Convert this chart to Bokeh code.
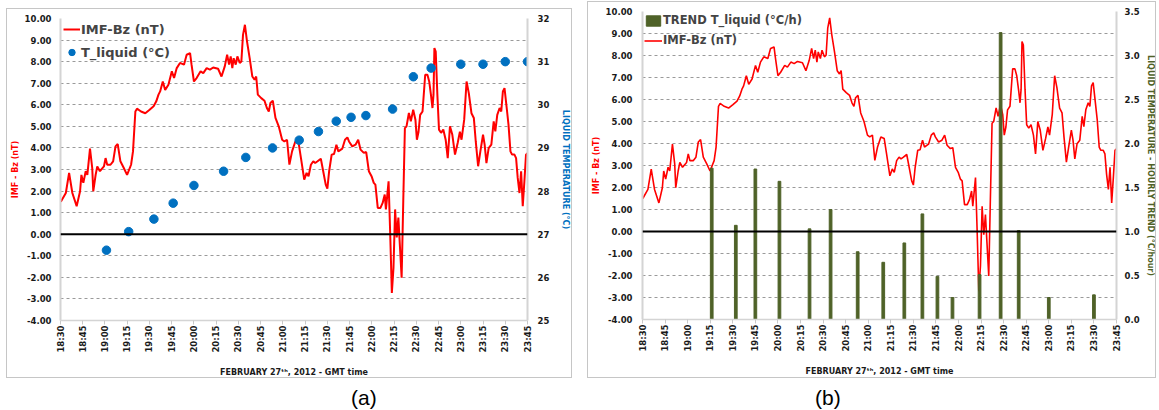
from bokeh.plotting import figure
from bokeh.models import (Range1d, LinearAxis, FixedTicker, NumeralTickFormatter,
                          Span, Legend, LegendItem, Div, Spacer)
from bokeh.layouts import row, column
from bokeh.embed import file_html
from bokeh.resources import INLINE

# ---------------- data ----------------
tick_labels = ["18:30", "18:45", "19:00", "19:15", "19:30", "19:45", "20:00", "20:15",
               "20:30", "20:45", "21:00", "21:15", "21:30", "21:45", "22:00", "22:15",
               "22:30", "22:45", "23:00", "23:15", "23:30", "23:45"]

# IMF-Bz (nT): minutes after 18:30 and values
imf_offset_min = [0.2, 3.6, 5.8, 8.0, 10.9, 13.2, 14.1, 15.4, 17.0, 18.1, 19.9, 21.4, 22.1,
                  23.7, 24.8, 26.6, 29.3, 30.4, 31.5, 33.7, 35.5, 37.1, 38.6, 40.4, 42.7,
                  44.9, 47.6, 48.9, 50.5, 51.6, 54.3, 57.2, 60.1, 62.8, 64.6, 66.1, 67.2,
                  69.0, 70.6, 72.8, 75.1, 76.6, 78.4, 80.6, 83.3, 85.1, 87.4, 88.4, 90.0,
                  91.8, 94.5, 96.3, 98.6, 100.8, 103.0, 106.3, 108.6, 110.8, 112.4, 113.7,
                  114.8, 115.9, 116.8, 118.2, 119.3, 120.9, 122.0, 123.1, 124.4, 125.8,
                  127.6, 129.4, 130.9, 132.0, 133.1, 135.4, 137.6, 139.2, 140.5, 141.6,
                  143.2, 145.0, 147.2, 149.5, 151.0, 152.8, 154.4, 156.2, 158.4, 160.6,
                  162.2, 164.4, 166.0, 167.3, 168.9, 170.5, 171.8, 173.4, 175.6, 177.2,
                  178.9, 180.0, 181.2, 182.9, 184.5, 186.1, 187.4, 190.1, 191.9, 193.5,
                  194.6, 196.8, 199.0, 200.8, 202.4, 204.6, 206.2, 208.0, 209.8, 211.3,
                  212.4, 214.0, 215.8, 217.3, 218.7, 219.5, 221.3, 222.4, 223.5, 224.6,
                  225.7, 226.8, 227.9, 229.0, 230.1, 231.2, 232.3, 233.4, 235.0, 236.3,
                  237.9, 239.4, 240.4, 241.5, 242.6, 244.2, 246.0, 247.5, 248.7, 250.0,
                  250.9, 251.6, 252.2, 253.1, 254.2, 255.3, 256.7, 258.2, 259.8, 261.2,
                  262.7, 264.3, 266.1, 267.9, 269.4, 270.5, 272.3, 273.9, 275.4, 277.2,
                  278.8, 280.1, 281.7, 283.2, 285.0, 286.1, 287.3, 288.8, 290.6, 292.2,
                  293.3, 294.6, 296.2, 297.3, 298.4, 299.5, 301.1, 302.2, 303.5, 304.6,
                  306.2, 307.3, 308.4, 309.6, 310.7, 311.8, 312.9, 314.0, 315.0]
imf_bz = [1.50, 1.91, 2.84, 1.91, 1.30, 1.99, 2.75, 2.38, 2.92, 2.75, 3.97, 3.07, 1.99,
          2.75, 3.14, 2.92, 3.14, 3.53, 3.22, 3.22, 3.38, 4.07, 4.18, 3.38, 3.07,
          2.75, 3.22, 3.84, 5.69, 5.82, 5.69, 5.61, 5.77, 5.93, 6.16, 6.47, 6.62,
          7.08, 6.69, 6.93, 7.55, 7.24, 7.70, 7.94, 7.86, 8.32, 8.39, 7.86, 7.08,
          7.24, 7.55, 7.47, 7.70, 7.63, 7.73, 7.67, 7.31, 7.78, 8.32, 7.86,
          8.24, 7.70, 8.16, 7.86, 8.24, 7.94, 8.01, 9.24, 9.71, 8.94,
          8.16, 7.31, 7.16, 7.31, 6.47, 6.31, 6.19, 5.85, 5.69, 6.08,
          6.19, 5.39, 5.00, 4.38, 4.30, 4.38, 3.23, 3.84, 4.30, 4.23,
          3.53, 2.53, 2.84, 2.69, 3.22, 3.38, 3.30, 3.38, 3.50, 2.92,
          2.30, 2.11, 2.92, 3.69, 3.72, 4.15, 3.84, 3.97, 4.38, 4.49,
          4.30, 4.07, 4.15, 4.38, 3.92, 3.77, 3.81, 2.92, 2.69, 2.38,
          2.30, 1.22, 1.22, 1.45, 1.84, 1.15, 2.45, 0.00, -2.72, -1.56,
          1.15, -0.15, 0.77, -0.62, -2.02, 1.53, 4.92, 5.00, 5.62, 5.23,
          5.77, 5.31, 4.38, 4.75, 5.53, 5.69, 7.39, 7.39, 7.08, 6.39,
          5.85, 6.47, 8.63, 8.47, 6.47, 4.85, 4.70, 4.85, 4.38, 3.53,
          5.00, 4.61, 3.69, 4.23, 4.75, 4.38, 5.31, 7.08, 6.54, 5.61,
          5.39, 4.30, 3.15, 3.84, 4.61, 4.15, 3.30, 3.99, 4.15, 5.23,
          4.77, 5.53, 5.85, 5.69, 6.62, 6.77, 5.77, 5.07, 3.84, 3.69,
          3.69, 3.53, 2.61, 1.91, 2.92, 1.30, 2.45, 3.69, 3.76]

# T_liquid (°C)
t_times = ["19:01", "19:16", "19:33", "19:46", "20:00", "20:20", "20:35", "20:53", "21:11",
           "21:24", "21:36", "21:46", "21:56", "22:14", "22:28", "22:40", "23:00", "23:15",
           "23:30", "23:45"]
t_liquid = [26.63, 27.06, 27.35, 27.72, 28.13, 28.46, 28.78, 29.00, 29.18, 29.38, 29.62,
            29.71, 29.75, 29.90, 30.65, 30.85, 30.94, 30.94, 31.00, 31.00]

# TREND T_liquid (°C/h)
trend_times = ["19:16", "19:32", "19:45", "20:01", "20:21", "20:35", "20:53", "21:10",
               "21:24", "21:36", "21:46", "21:56", "22:14", "22:28", "22:40", "23:00", "23:30"]
trend_vals = [1.72, 1.07, 1.71, 1.57, 1.03, 1.25, 0.77, 0.65, 0.87, 1.20, 0.49, 0.25, 0.51,
              3.26, 1.01, 0.25, 0.28]

temp_ticks = [25, 26, 27, 28, 29, 30, 31, 32]
trend_ticks = [0.0, 0.5, 1.0, 1.5, 2.0, 2.5, 3.0, 3.5]
bz_ticks = list(range(-4, 11))


def hm(s):
    h, m = s.split(":")
    return int(h) * 60 + int(m)


x_ticks = [hm(t) for t in tick_labels]
x0, x1 = x_ticks[0], x_ticks[-1]
imf_x = [x0 + m for m in imf_offset_min]
t_x = [hm(t) for t in t_times]
trend_x = [hm(t) for t in trend_times]

FONT = "DejaVu Sans"
RED = "#ff0000"
BLUE = "#0070c0"
GREEN = "#4f6228"
XLABEL = "FEBRUARY 27ᵗʰ, 2012 - GMT time"


def style_axis(ax, label, color, standoff, label_standoff, tick_size="8.5px"):
    ax.axis_label = label
    ax.axis_label_text_font = FONT
    ax.axis_label_text_font_style = "bold"
    ax.axis_label_text_font_size = "8px"
    ax.axis_label_text_color = color
    ax.axis_label_standoff = label_standoff
    ax.major_label_text_font = FONT
    ax.major_label_text_font_style = "bold"
    ax.major_label_text_font_size = tick_size
    ax.major_label_text_color = "#1a1a1a"
    ax.major_label_standoff = standoff
    ax.axis_line_color = "#d4d4d4"
    ax.axis_line_width = 2
    ax.major_tick_line_color = None
    ax.major_tick_out = 0
    ax.major_tick_in = 0
    ax.minor_tick_line_color = None
    ax.minor_tick_out = 0
    ax.minor_tick_in = 0


def base_fig(width, height, borders, left_standoff, right_name, right_range, right_ticks,
             right_fmt, right_label, right_color, right_standoff, right_label_standoff):
    left, right, top, bottom = borders
    p = figure(width=width, height=height, x_range=Range1d(x0, x1), y_range=Range1d(-4, 10),
               output_backend="svg", toolbar_location=None,
               min_border_left=left, min_border_right=right,
               min_border_top=top, min_border_bottom=bottom,
               background_fill_color="white", border_fill_color="white",
               outline_line_color=None,
               styles={"border": "1px solid #c6c6c6", "box-sizing": "border-box"})
    p.extra_y_ranges = {right_name: right_range}

    # left axis
    ly = p.yaxis[0]
    ly.ticker = FixedTicker(ticks=bz_ticks)
    ly.formatter = NumeralTickFormatter(format="0.00")
    style_axis(ly, "IMF - Bz (nT)", RED, left_standoff, 2)

    # right axis
    ry = LinearAxis(y_range_name=right_name, ticker=FixedTicker(ticks=right_ticks),
                    formatter=NumeralTickFormatter(format=right_fmt))
    style_axis(ry, right_label, right_color, right_standoff, right_label_standoff)
    p.add_layout(ry, "right")

    # bottom axis
    xa = p.xaxis[0]
    xa.ticker = FixedTicker(ticks=x_ticks)
    xa.major_label_overrides = {t: lbl for t, lbl in zip(x_ticks, tick_labels)}
    style_axis(xa, XLABEL, "#1a1a1a", 1, 12, tick_size="8.5px")
    xa.major_label_orientation = 3.14159265 / 2
    xa.axis_line_width = 1.5
    xa.major_tick_line_color = "#c8c8c8"
    xa.major_tick_out = 4
    xa.major_tick_in = 0

    p.xgrid.visible = False
    p.ygrid.ticker = FixedTicker(ticks=bz_ticks)
    p.ygrid.grid_line_color = "#9a9a9a"
    p.ygrid.grid_line_dash = "3 3"
    p.ygrid.grid_line_width = 1

    p.add_layout(Span(location=0, dimension="width", line_color="black", line_width=2))
    return p


# ---------------- panel (a) ----------------
pa = base_fig(566, 370, (51, 45, 9, 59), 9, "temp", Range1d(25, 32), temp_ticks, "0",
              "LIQUID TEMPERATURE (°C)", BLUE, 10, 9)
la = pa.line(imf_x, imf_bz, line_color=RED, line_width=2)
da = pa.scatter(t_x, t_liquid, y_range_name="temp", size=8.5, fill_color=BLUE,
                line_color=BLUE)
leg_a = Legend(items=[LegendItem(label="IMF-Bz (nT)", renderers=[la]),
                      LegendItem(label="T_liquid (°C)", renderers=[da])],
               location="top_left", margin=3, padding=2, spacing=7,
               glyph_width=17, glyph_height=16, label_height=16, label_standoff=1,
               label_text_font=FONT, label_text_font_style="bold",
               label_text_font_size="13px", border_line_color=None,
               background_fill_alpha=0)
pa.add_layout(leg_a)

# ---------------- panel (b) ----------------
pb = base_fig(569, 377, (52, 38, 9, 60), 10, "trend", Range1d(0, 3.5), trend_ticks, "0.0",
              "LIQUID TEMPERATURE - HOURLY TREND (°C/hour)", GREEN, 8, 3)
lb = pb.line(imf_x, imf_bz, line_color=RED, line_width=1.6)
bb = pb.vbar(x=trend_x, top=trend_vals, bottom=0, width=1.8, y_range_name="trend",
             fill_color=GREEN, line_color=GREEN)
leg_b = Legend(items=[LegendItem(label="TREND T_liquid (°C/h)", renderers=[bb]),
                      LegendItem(label="IMF-Bz (nT)", renderers=[lb])],
               location="top_left", margin=2, padding=2, spacing=6,
               glyph_width=18, glyph_height=13, label_height=13, label_standoff=1,
               label_text_font=FONT, label_text_font_style="bold",
               label_text_font_size="11.5px", border_line_color=None,
               background_fill_alpha=0)
pb.add_layout(leg_b)

cap_a = Div(text='<div style="font-family:\'Liberation Sans\',Arial;font-size:21px;'
                 'padding-left:345px;padding-top:5px">(a)</div>', width=566, height=31,
            margin=(0, 0, 0, 0))
cap_b = Div(text='<div style="font-family:\'Liberation Sans\',Arial;font-size:21px;'
                 'padding-left:228px;padding-top:5px">(b)</div>', width=569, height=31,
            margin=(0, 0, 0, 0))

layout = row(Spacer(width=6),
             column(Spacer(height=8), pa, cap_a),
             Spacer(width=15),
             column(Spacer(height=1), pb, cap_b))

open("out.html", "w").write(file_html(layout, INLINE))
